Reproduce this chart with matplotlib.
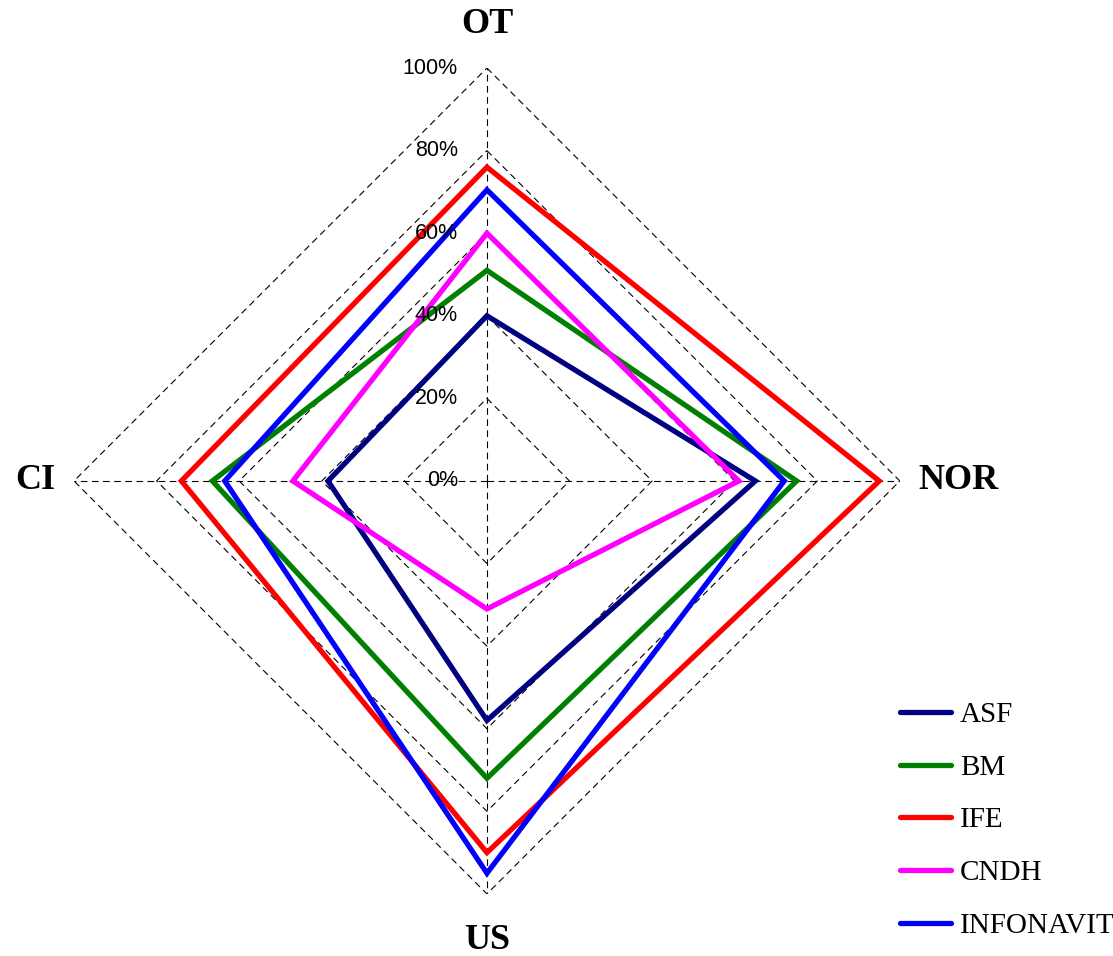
import numpy as np
import matplotlib
matplotlib.use("Agg")
import matplotlib.pyplot as plt
from matplotlib.lines import Line2D

# ==========================
# DATA
# ==========================

axes_labels = ["OT", "NOR", "US", "CI"]

asf = [0.40, 0.65, 0.58, 0.385]
bm = [0.51, 0.75, 0.72, 0.665]
ife = [0.76, 0.95, 0.90, 0.74]
cndh = [0.60, 0.61, 0.31, 0.47]
infonavit = [0.705, 0.72, 0.95, 0.635]

series_names = ["ASF", "BM", "IFE", "CNDH", "INFONAVIT"]
series_values = [asf, bm, ife, cndh, infonavit]
series_colors = ["#000080", "#008000", "#ff0000", "#ff00ff", "#0000ff"]

grid_levels = [0.2, 0.4, 0.6, 0.8, 1.0]
tick_levels = [0.0, 0.2, 0.4, 0.6, 0.8, 1.0]
tick_labels = ["0%", "20%", "40%", "60%", "80%", "100%"]

# ==========================
# FIGURE
# ==========================

fig = plt.figure(figsize=(11.13, 9.56), dpi=100)
ax = fig.add_axes([0.0665, 0.0649, 0.742, 0.864], projection="polar")
ax.set_theta_offset(np.pi / 2)
ax.set_theta_direction(-1)
ax.set_ylim(0, 1)
ax.grid(False)
ax.set_xticks([])
ax.set_yticks([])
ax.spines["polar"].set_visible(False)
ax.patch.set_visible(False)

n = len(axes_labels)
angles = np.arange(n) * 2 * np.pi / n

# diamond grid
for lev in grid_levels:
    ax.fill(angles, [lev] * n, fill=False, edgecolor="black",
            lw=0.8, linestyle=(0, (6, 4)), zorder=1)

# spokes
for a in angles:
    ax.plot([a, a], [0, 1], color="black", lw=0.8,
            linestyle=(0, (6, 4)), zorder=1)

# tick labels
for lev, lab in zip(tick_levels, tick_labels):
    ax.annotate(lab, xy=(0, lev), xytext=(-29, 0),
                textcoords="offset pixels", ha="right", va="center",
                fontsize=15.5, family="Liberation Sans", zorder=3)

# series
for vals, col in zip(series_values, series_colors):
    ax.fill(angles, vals, fill=False, edgecolor=col, lw=3.8,
            joinstyle="miter", zorder=2)

# axis labels
label_r = [1.065, 1.045, 1.072, 1.046]
label_ha = ["center", "left", "center", "right"]
label_va = ["bottom", "center", "top", "center"]
for a, lab, r, ha, va in zip(angles, axes_labels, label_r, label_ha, label_va):
    ax.text(a, r, lab, ha=ha, va=va, fontsize=26, fontweight="bold",
            family="Liberation Serif")

# legend
handles = [Line2D([], [], color=c, lw=3.8, solid_capstyle="round")
           for c in series_colors]
fig.legend(handles, series_names, loc="upper left",
           bbox_to_anchor=(0.7853, 0.2935), frameon=False,
           prop={"family": "Liberation Serif", "size": 21},
           handlelength=1.75, handletextpad=0.3, labelspacing=0.9)

fig.savefig("out.png", dpi=100)
